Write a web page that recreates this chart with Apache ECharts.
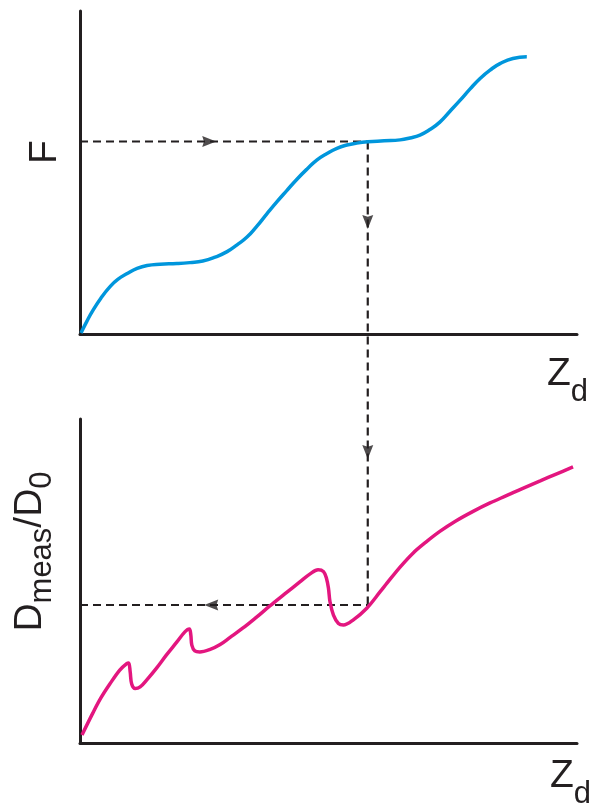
<!DOCTYPE html>
<html>
<head>
<meta charset="utf-8">
<script src="https://cdn.jsdelivr.net/npm/echarts@6/dist/echarts.min.js"></script>
<style>html,body{margin:0;padding:0;background:#fff}#c{width:595px;height:808px}</style>
</head>
<body>
<div id="c"></div>
<script>
// ---- Data (arbitrary units, both axes 0..100) ----
// Top panel: F versus Z_d
const zTop = [0.2, 1.4, 2.6, 4.2, 6.0, 7.6, 9.5, 11.5, 13.5, 16.1, 19.5, 22.1, 24.7, 27.2, 29.6, 31.6, 33.6, 35.6, 37.6, 39.6, 41.6, 43.7, 45.7, 47.7, 49.7, 51.7, 53.7, 55.7, 57.9, 61.2, 64.4, 66.4, 68.4, 70.4, 72.4, 74.4, 76.5, 78.5, 80.5, 82.5, 84.5, 87.1, 89.9];
const fTop = [0.3, 4.0, 7.3, 11.1, 14.6, 16.9, 18.7, 20.3, 21.2, 21.6, 21.8, 22.1, 22.6, 23.8, 25.5, 27.6, 30.0, 33.4, 37.2, 40.9, 44.4, 48.0, 51.1, 53.9, 55.9, 57.5, 58.5, 59.1, 59.5, 59.8, 60.1, 60.7, 61.6, 63.3, 65.6, 68.9, 72.4, 75.9, 79.1, 81.7, 83.7, 85.3, 85.8];
// Bottom panel: D_meas/D_0 versus Z_d
const zBot = [0.4, 2.6, 4.2, 6.0, 8.0, 9.4, 9.8, 10.1, 10.4, 11.1, 12.1, 13.4, 15.4, 17.4, 19.5, 21.1, 22.0, 22.3, 22.5, 23.1, 24.1, 26.2, 28.2, 30.2, 32.8, 35.4, 38.2, 41.2, 44.3, 46.3, 47.9, 49.0, 49.6, 50.0, 50.3, 51.0, 52.0, 53.0, 55.0, 57.7, 60.4, 61.8, 64.4, 67.0, 69.6, 72.4, 75.7, 79.1, 82.5, 85.9, 89.1, 92.6, 95.8, 99.2];
const dBot = [2.5, 9.3, 13.9, 18.2, 22.5, 24.5, 24.7, 21.9, 18.2, 16.8, 17.3, 19.4, 23.1, 27.2, 31.2, 34.3, 35.2, 33.3, 30.2, 28.4, 28.1, 28.9, 30.4, 32.6, 35.5, 38.7, 42.3, 46.0, 49.8, 52.2, 53.5, 52.9, 50.8, 47.7, 43.6, 39.5, 36.9, 36.4, 38.0, 41.6, 46.7, 49.4, 54.3, 58.6, 62.0, 65.3, 68.6, 71.5, 74.1, 76.4, 78.6, 80.9, 83.0, 85.2];
// Construction (dashed read-off path)
const zRead = 57.9;      // chosen Z_d
const fRead = 59.6;      // F at that Z_d
const dRead = 42.6;      // D_meas/D_0 at that Z_d
const arrowTopH = 26.0;  // position of right arrow along Z (top)
const arrowTopV = 34.7;  // position of down arrow along F (top)
const arrowBotV = 89.8;  // position of down arrow along D (bottom)
const arrowBotH = 26.4;  // position of left arrow along Z (bottom)

const INK = '#231f20';
const dash = { color: INK, width: 2.2, type: [8, 5] };
const arrowPath = 'path://M0,0 L12,5 L0,10 L1.5,5 Z';

const pair = (xs, ys) => xs.map((x, i) => [x, ys[i]]);

const axisLine = { show: true, onZero: false, lineStyle: { color: INK, width: 3 } };
const bare = { axisTick: { show: false }, axisLabel: { show: false }, splitLine: { show: false } };
const baseFont = 'Liberation Sans, Arial, sans-serif';
const rich = (subH) => ({
  b: { fontSize: 39, lineHeight: 40, fontFamily: baseFont, color: INK },
  s: { fontSize: 31, lineHeight: subH, height: subH, verticalAlign: 'bottom', fontFamily: baseFont, color: INK }
});

const chart = echarts.init(document.getElementById('c'), null, { renderer: 'canvas' });
chart.setOption({
  animation: false,
  backgroundColor: '#fff',
  grid: [
    { left: 80, right: 18, top: 11, height: 323, outerBoundsMode: 'none' },
    { left: 80, right: 18, top: 419, height: 324, outerBoundsMode: 'none' }
  ],
  xAxis: [
    Object.assign({ type: 'value', gridIndex: 0, min: 0, max: 100, axisLine,
      name: '{b|Z}{s|d}', nameLocation: 'end', nameGap: 11,
      nameTextStyle: { align: 'right', verticalAlign: 'top', padding: [20, 0, 0, 0], rich: rich(4) } }, bare),
    Object.assign({ type: 'value', gridIndex: 1, min: 0, max: 100, axisLine,
      name: '{b|Z}{s|d}', nameLocation: 'end', nameGap: 14,
      nameTextStyle: { align: 'right', verticalAlign: 'top', padding: [13, 0, 0, 0], rich: rich(4) } }, bare)
  ],
  yAxis: [
    Object.assign({ type: 'value', gridIndex: 0, min: 0, max: 100, axisLine,
      name: '{b|F}', nameLocation: 'middle', nameRotate: 90, nameGap: 15,
      nameTextStyle: { padding: [0, 0, 0, 41], rich: rich(16) } }, bare),
    Object.assign({ type: 'value', gridIndex: 1, min: 0, max: 100, axisLine,
      name: '{b|D}{s|meas}{b|/D}{s|0}', nameLocation: 'middle', nameRotate: 90, nameGap: 30,
      nameTextStyle: { padding: [0, 0, 0, 59], rich: rich(16) } }, bare)
  ],
  series: [
    { type: 'line', xAxisIndex: 0, yAxisIndex: 0, data: [[0, fRead], [zRead, fRead]], showSymbol: false, lineStyle: dash, z: 1 },
    { type: 'line', xAxisIndex: 1, yAxisIndex: 1, data: [[0, dRead], [zRead, dRead]], showSymbol: false, lineStyle: dash, z: 1 },
    { type: 'line', xAxisIndex: 0, yAxisIndex: 0, data: pair(zTop, fTop), smooth: 0.5, showSymbol: false,
      lineStyle: { color: '#0096dc', width: 3.5 }, z: 3 },
    { type: 'line', xAxisIndex: 1, yAxisIndex: 1, data: pair(zBot, dBot), smooth: 0.35, showSymbol: false,
      lineStyle: { color: '#e3167f', width: 3.5 }, z: 3 },
    { type: 'scatter', xAxisIndex: 0, yAxisIndex: 0, symbol: arrowPath, symbolSize: [14, 11],
      itemStyle: { color: INK },
      data: [
        { value: [arrowTopH, fRead], symbolRotate: 0 },
        { value: [zRead, arrowTopV], symbolRotate: -90 }
      ], z: 4 },
    { type: 'scatter', xAxisIndex: 1, yAxisIndex: 1, symbol: arrowPath, symbolSize: [14, 11],
      itemStyle: { color: INK },
      data: [
        { value: [arrowBotH, dRead], symbolRotate: 180 },
        { value: [zRead, arrowBotV], symbolRotate: -90 }
      ], z: 4 }
  ]
});

// Vertical read-off line spanning both panels: from (zRead, fRead) in the top panel
// down to (zRead, dRead) in the bottom panel, mapped through the library's scales.
const topPx = chart.convertToPixel({ gridIndex: 0 }, [zRead, fRead]);
const topInBottom = chart.convertFromPixel({ gridIndex: 1 }, topPx);
const opt = chart.getOption();
const series = opt.series;
series.push({ type: 'line', xAxisIndex: 1, yAxisIndex: 1, clip: false,
  data: [[zRead, topInBottom[1]], [zRead, dRead]], showSymbol: false, lineStyle: dash, z: 1 });
chart.setOption({ series: series });
</script>
</body>
</html>
